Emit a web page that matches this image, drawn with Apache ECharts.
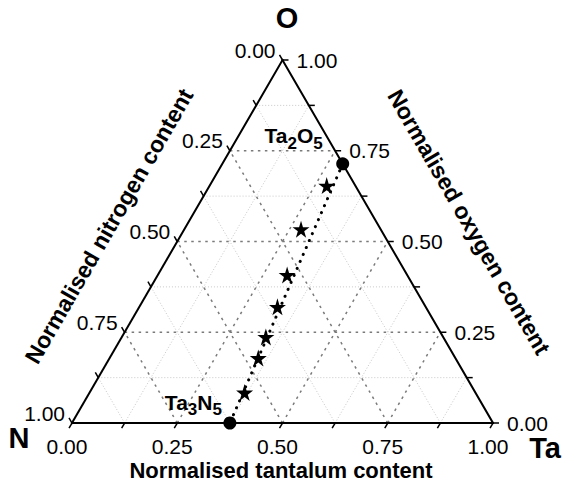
<!DOCTYPE html>
<html>
<head>
<meta charset="utf-8">
<script src="https://cdn.jsdelivr.net/npm/echarts@6/dist/echarts.min.js"></script>
<style>
  html, body { margin: 0; padding: 0; background: #fff; }
  #chart { width: 563px; height: 487px; }
</style>
</head>
<body>
<div id="chart"></div>
<script>
// ternary axis ticks (same for the three axes)
var majorTicks = [0, 0.25, 0.5, 0.75, 1];
var tickLabels = ["0.00", "0.25", "0.50", "0.75", "1.00"];
var minorTicks = [0.125, 0.375, 0.625, 0.875];

// reference compounds: tantalum and oxygen fractions (nitrogen = rest)
var compoundNames = ["Ta2O5", "Ta3N5"];
var compoundTa = [0.286, 0.375];
var compoundO = [0.714, 0];

// measured films
var sampleTa = [0.278, 0.277, 0.307, 0.328, 0.342, 0.353, 0.368];
var sampleO = [0.654, 0.534, 0.408, 0.320, 0.237, 0.179, 0.084];

var FONT = "'Liberation Sans', Arial, Helvetica, sans-serif";
var H = Math.sqrt(3) / 2;

// (Ta, O) -> cartesian, N at the left corner, Ta right, O on top
function tern(ta, o) {
  return [ta + o / 2, o * H];
}

function gridSegments(levels) {
  var out = [];
  levels.forEach(function (v) {
    out.push(tern(0, v).concat(tern(1 - v, v)));       // constant O
    out.push(tern(v, 0).concat(tern(v, 1 - v)));       // constant Ta
    out.push(tern(1 - v, 0).concat(tern(0, 1 - v)));   // constant N
  });
  return out;
}

function segRender(style) {
  return function (params, api) {
    var p1 = api.coord([api.value(0), api.value(1)]);
    var p2 = api.coord([api.value(2), api.value(3)]);
    return {
      type: "line",
      shape: { x1: p1[0], y1: p1[1], x2: p2[0], y2: p2[1] },
      style: Object.assign({}, style)
    };
  };
}

var edges = [
  tern(0, 0).concat(tern(1, 0)),
  tern(1, 0).concat(tern(0, 1)),
  tern(0, 1).concat(tern(0, 0))
];

// ticks: side 0 = bottom (Ta), 1 = right (O), 2 = left (N)
var allTicks = majorTicks.concat(minorTicks);
var tickData = [];
allTicks.forEach(function (t) {
  tickData.push(tern(t, 0).concat([0]));
  tickData.push(tern(1 - t, t).concat([1]));
  tickData.push(tern(0, 1 - t).concat([2]));
});
var tickDir = [[-0.5, 0.866], [1, 0], [-0.5, -0.866]];

var labelData = [];
majorTicks.forEach(function (t, i) {
  labelData.push(tern(t, 0).concat([0, i]));
  labelData.push(tern(1 - t, t).concat([1, i]));
  labelData.push(tern(0, 1 - t).concat([2, i]));
});
var labelPlace = [
  { dx: -5, dy: 23, align: "center" },
  { dx: 14, dy: 0, align: "left" },
  { dx: -7, dy: -10, align: "right" }
];

var compoundOffset = [[-20, -28], [-8, -21]];

var chart = echarts.init(document.getElementById("chart"), null, { renderer: "svg" });

function bigText(x, y, text, size, rot) {
  return {
    type: "text", x: x, y: y, rotation: rot || 0,
    style: { text: text, font: "bold " + size + "px " + FONT, fill: "#000", align: "center", verticalAlign: "middle" }
  };
}

chart.setOption({
  animation: false,
  backgroundColor: "#fff",
  grid: { left: 72, right: 70, top: 60, bottom: 64 },
  xAxis: { type: "value", min: 0, max: 1, show: false },
  yAxis: { type: "value", min: 0, max: H, show: false },
  graphic: [
    bigText(287, 18, "O", 29),
    bigText(19, 438, "N", 29),
    bigText(545, 448, "Ta", 29),
    bigText(281, 470, "Normalised tantalum content", 22),
    bigText(109, 226, "Normalised nitrogen content", 23, Math.PI / 3),
    bigText(469, 222, "Normalised oxygen content", 23, -Math.PI / 3)
  ],
  series: [
    {
      type: "custom", z: 1, clip: false,
      data: gridSegments(minorTicks),
      renderItem: segRender({ stroke: "#c8c8c8", lineWidth: 1, lineDash: [1, 2] })
    },
    {
      type: "custom", z: 2, clip: false,
      data: gridSegments(majorTicks.slice(1, -1)),
      renderItem: segRender({ stroke: "#7a7a7a", lineWidth: 1.5, lineDash: [2.5, 4.5] })
    },
    {
      type: "custom", z: 3, clip: false,
      data: edges,
      renderItem: segRender({ stroke: "#000", lineWidth: 2, lineCap: "square" })
    },
    {
      type: "custom", z: 3, clip: false,
      data: tickData,
      renderItem: function (params, api) {
        var p = api.coord([api.value(0), api.value(1)]);
        var d = tickDir[api.value(2)];
        return {
          type: "line",
          shape: { x1: p[0], y1: p[1], x2: p[0] + d[0] * 6, y2: p[1] + d[1] * 6 },
          style: { stroke: "#000", lineWidth: 1.5 }
        };
      }
    },
    {
      type: "custom", z: 4, clip: false,
      data: labelData,
      renderItem: function (params, api) {
        var p = api.coord([api.value(0), api.value(1)]);
        var pl = labelPlace[api.value(2)];
        return {
          type: "text",
          x: p[0] + pl.dx, y: p[1] + pl.dy,
          style: {
            text: tickLabels[api.value(3)], fill: "#000",
            font: "21px " + FONT, align: pl.align, verticalAlign: "middle"
          }
        };
      }
    },
    {
      type: "line", z: 5, symbol: "none", silent: true,
      data: [tern(compoundTa[0], compoundO[0]), tern(compoundTa[1], compoundO[1])],
      lineStyle: { color: "#000", width: 3, type: [0.1, 7.5], cap: "round" }
    },
    {
      type: "scatter", z: 6, symbol: "circle", symbolSize: 13,
      itemStyle: { color: "#000", opacity: 1 },
      data: compoundTa.map(function (ta, i) { return tern(ta, compoundO[i]); })
    },
    {
      type: "scatter", z: 6, symbolSize: 17,
      symbol: "path://M50,0L61,35L98,35L68,57L79,91L50,70L21,91L32,57L2,35L39,35Z",
      itemStyle: { color: "#000", opacity: 1 },
      data: sampleTa.map(function (ta, i) { return tern(ta, sampleO[i]); })
    },
    {
      type: "custom", z: 7, clip: false,
      data: compoundTa.map(function (ta, i) { return tern(ta, compoundO[i]).concat([i]); }),
      renderItem: function (params, api) {
        var i = api.value(2);
        var p = api.coord([api.value(0), api.value(1)]);
        return {
          type: "text",
          x: p[0] + compoundOffset[i][0], y: p[1] + compoundOffset[i][1],
          style: {
            text: compoundNames[i].replace(/([A-Za-z]+)(\d)/g, "{n|$1}{s|$2}"),
            align: "right", verticalAlign: "middle",
            rich: {
              n: { fontSize: 21, fontWeight: "bold", fontFamily: FONT, fill: "#000", lineHeight: 22 },
              s: { fontSize: 17, fontWeight: "bold", fontFamily: FONT, fill: "#000", lineHeight: 17, padding: [15, 0, 0, 0] }
            }
          }
        };
      }
    }
  ]
});
</script>
</body>
</html>
